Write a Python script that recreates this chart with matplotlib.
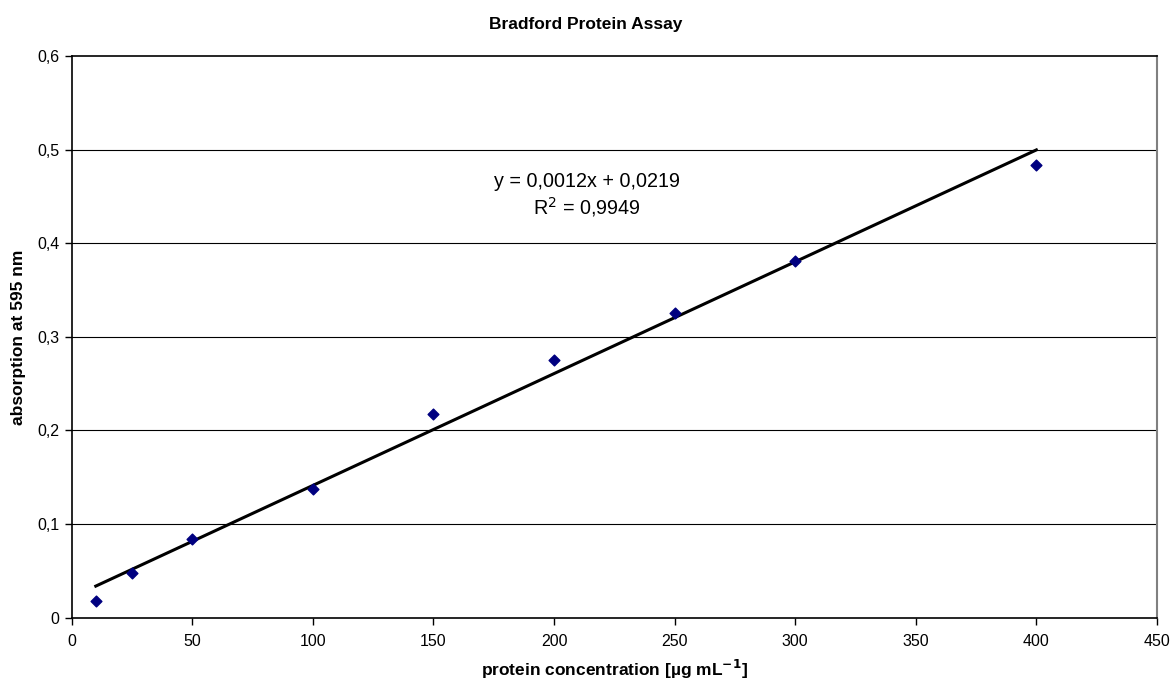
import matplotlib
matplotlib.use('Agg')
import matplotlib.pyplot as plt
import numpy as np

plt.rcParams['font.family'] = ['Liberation Sans', 'DejaVu Sans']

# protein standards (µg/mL) and measured absorption at 595 nm
conc = [10, 25, 50, 100, 150, 200, 250, 300, 400]
absorb = [0.018, 0.048, 0.084, 0.137, 0.218, 0.275, 0.325, 0.381, 0.484]

x_ticks = [0, 50, 100, 150, 200, 250, 300, 350, 400, 450]
y_ticks = [0, 0.1, 0.2, 0.3, 0.4, 0.5, 0.6]
y_tick_labels = ['0', '0,1', '0,2', '0,3', '0,4', '0,5', '0,6']

# linear trendline
slope, intercept = np.polyfit(conc, absorb, 1)

fig = plt.figure(figsize=(11.71, 6.81), dpi=100)
ax = fig.add_axes([0.0612, 0.093, 0.9268, 0.8248])

for y in y_ticks[1:-1]:
    ax.axhline(y, color='black', linewidth=0.8, zorder=1)

xl = np.array([min(conc), max(conc)])
ax.plot(xl, slope * xl + intercept, color='black', linewidth=2.2, zorder=2)
ax.scatter(conc, absorb, marker='D', s=30, color='#000080', zorder=3)

ax.set_xlim(0, 450)
ax.set_ylim(0, 0.6)
ax.set_xticks(x_ticks)
ax.set_xticklabels([str(v) for v in x_ticks])
ax.set_yticks(y_ticks)
ax.set_yticklabels(y_tick_labels)
ax.tick_params(direction='out', length=5, width=1, labelsize=11.5, pad=7)
ax.tick_params(axis='y', pad=4)

for s in ['left', 'bottom', 'top']:
    ax.spines[s].set_color('black')
    ax.spines[s].set_linewidth(1.2)
ax.spines['right'].set_color('#808080')
ax.spines['right'].set_linewidth(1.5)

ax.text(0.475, 0.751, 'y = 0,0012x + 0,0219\nR$^{2}$ = 0,9949', transform=ax.transAxes,
        ha='center', va='center', fontsize=14.2, linespacing=1.2)

fig.text(0.5, 0.964, 'Bradford Protein Assay', ha='center', va='center',
         fontsize=12.5, fontweight='bold')
ax.set_xlabel('protein concentration [µg mL$\\mathbf{^{-1}}$]', fontsize=12.5,
              fontweight='bold', labelpad=6)
ax.set_ylabel('absorption at 595 nm', fontsize=12.5, fontweight='bold', labelpad=8)

fig.savefig('out.png', dpi=100)
